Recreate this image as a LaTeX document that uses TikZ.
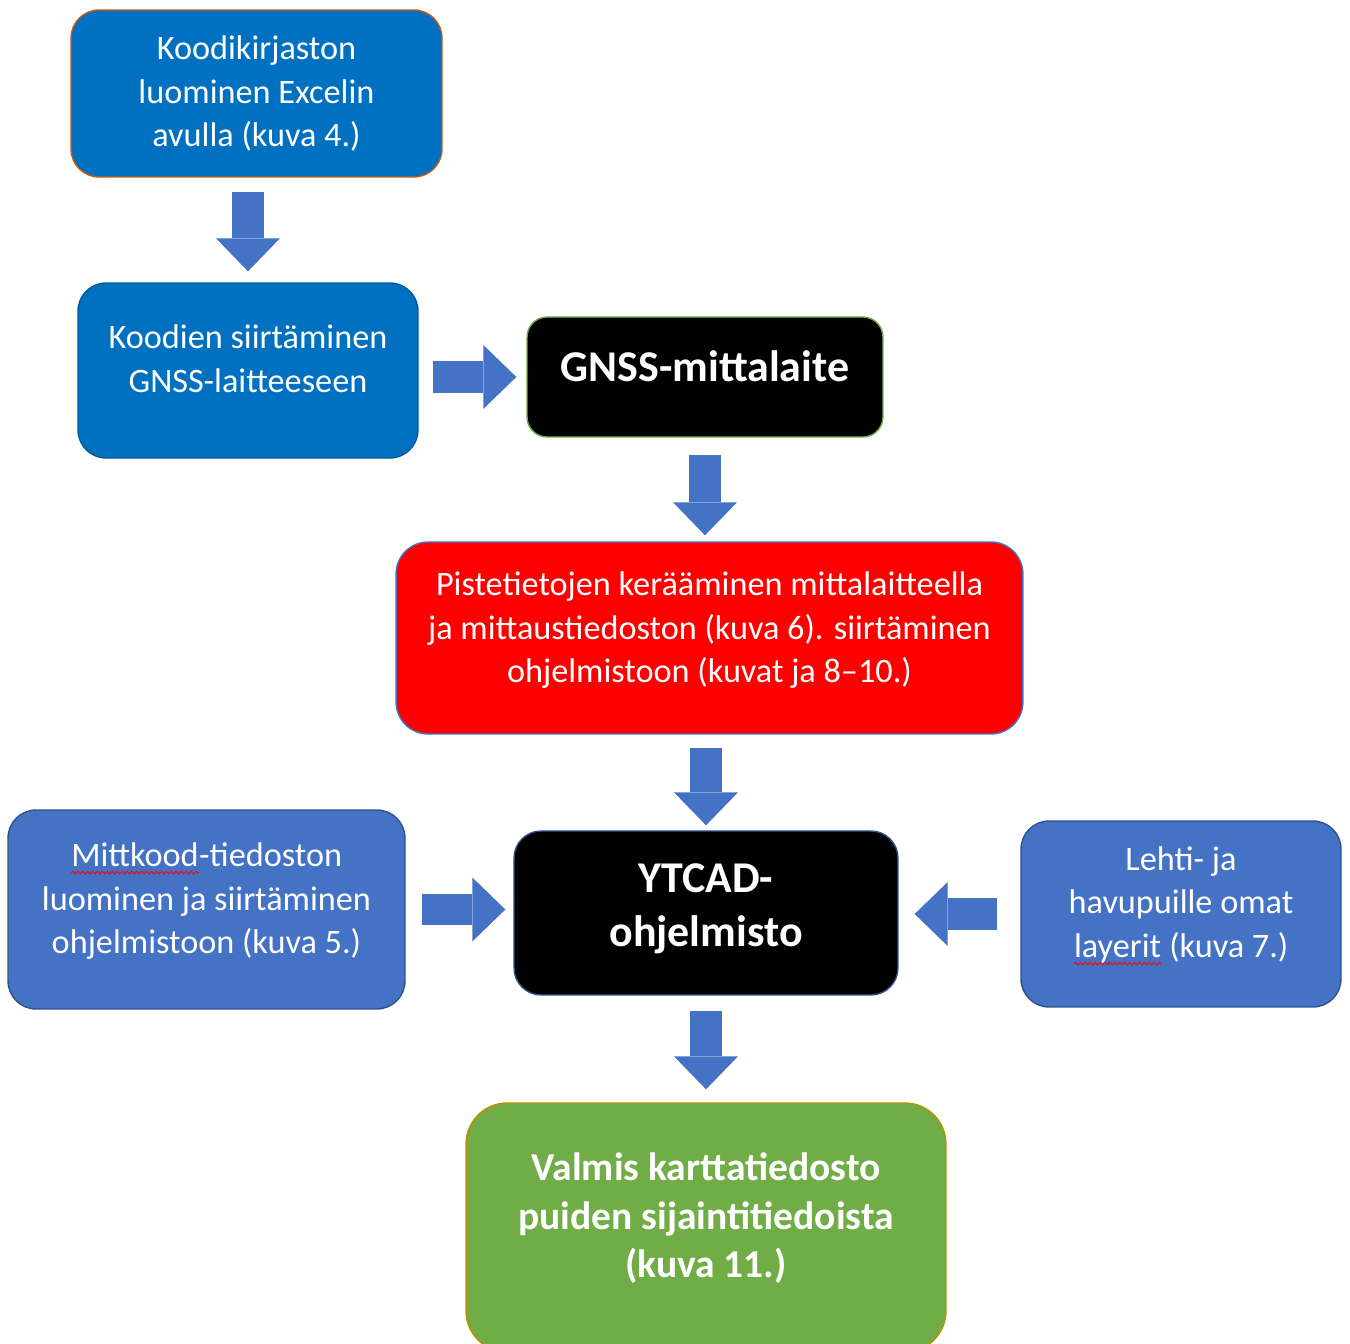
\documentclass[tikz,border=0pt]{standalone}
\usepackage{fontspec}
\setmainfont{Carlito}
\usetikzlibrary{arrows.meta,decorations.pathmorphing}

\definecolor{officeblue}{HTML}{0070C0}
\definecolor{accentblue}{HTML}{4472C4}
\definecolor{darkblue}{HTML}{2F528F}
\definecolor{officegreen}{HTML}{70AD47}
\definecolor{rustedge}{HTML}{C55A11}
\definecolor{goldedge}{HTML}{BF9000}
% text block, set higher in its box by adding depth below
\newcommand\lifted[2]{\raisebox{0pt}[\height][\dimexpr\depth+#1\relax]{\begin{tabular}{@{}c@{}}#2\end{tabular}}}
% red wavy spelling mark under a word
\newcommand\spellerr[1]{\tikz[baseline=(w.base), x=1cm, y=1cm, sharp corners]{\node[draw=none, fill=none, minimum width=0pt, minimum height=0pt, inner sep=0pt, outer sep=0pt] (w) {#1}; \draw[red, line width=0.5pt, decorate, decoration={snake, amplitude=0.8pt, segment length=2.8pt}] ([yshift=-3.5pt]w.base west) -- ([yshift=-3.5pt]w.base east);}}

\begin{document}
\begin{tikzpicture}[x=0.02cm, y=-0.02cm, every node/.style={font=\fontsize{19.5}{24.9}\selectfont, text=white, align=center}, box/.style={draw, rounded corners=0.56cm, line width=0.8pt, inner sep=2pt}, bigtext/.style={font=\fontsize{25}{30.5}\selectfont\bfseries}, flow/.style={accentblue, line width=0.64cm, -{Triangle[width=1.28cm, length=0.66cm, line width=0pt]}}]
	\clip (0,0) rectangle (1350,1344);
	\node[box, fill=officeblue, draw=rustedge, minimum width=7.42cm, minimum height=3.34cm] (kirjasto) at (256.5,93.5) {Koodikirjaston\\luominen Excelin\\avulla (kuva 4.)};
	\node[box, fill=officeblue, draw=officeblue!80!black, minimum width=6.8cm, minimum height=3.5cm] (siirto) at (248,370.5) {\lifted{0.34cm}{Koodien siirtäminen\\GNSS-laitteeseen}};
	\node[box, fill=black, draw=officegreen, rounded corners=0.4cm, minimum width=7.12cm, minimum height=2.4cm, bigtext] (gnss) at (705,377) {\lifted{0.24cm}{GNSS-mittalaite}};
	\node[box, fill=red, draw=accentblue, rounded corners=0.64cm, minimum width=12.54cm, minimum height=3.84cm] (keruu) at (709.5,638) {\lifted{0.3cm}{Pistetietojen kerääminen mittalaitteella\\ja mittaustiedoston (kuva 6). siirtäminen\\ohjelmistoon (kuvat ja 8–10.)}};
	\node[box, fill=accentblue, draw=darkblue, minimum width=7.94cm, minimum height=3.98cm] (mittkood) at (206.5,909.5) {\lifted{0.32cm}{\spellerr{Mittkood}-tiedoston\\luominen ja siirtäminen\\ohjelmistoon (kuva 5.)}};
	\node[box, fill=black, draw=darkblue, rounded corners=0.54cm, minimum width=7.68cm, minimum height=3.28cm, bigtext] (ytcad) at (706,913) {\lifted{0.18cm}{YTCAD-\\ohjelmisto}};
	\node[box, fill=accentblue, draw=darkblue, minimum width=6.4cm, minimum height=3.72cm] (layerit) at (1181,914) {\lifted{0.36cm}{Lehti- ja\\havupuille omat\\\spellerr{layerit} (kuva 7.)}};
	\node[box, fill=officegreen, draw=goldedge, rounded corners=0.82cm, minimum width=9.6cm, minimum height=4.98cm, font=\fontsize{22.5}{27.5}\selectfont\bfseries] (valmis) at (706,1227.5) {\lifted{0.32cm}{Valmis karttatiedosto\\puiden sijaintitiedoista\\(kuva 11.)}};
	% block arrows
	\draw[flow, shorten <=0.28cm, shorten >=0.22cm] (kirjasto.south -| siirto.north) -- (siirto.north);
	\draw[flow, shorten <=0.28cm, shorten >=0.2cm] (siirto.east |- gnss.west) -- (gnss.west);
	\draw[flow, shorten <=0.34cm, shorten >=0.12cm] (gnss.south) -- (gnss.south |- keruu.north);
	\draw[flow, shorten <=0.26cm, shorten >=0.1cm] (ytcad.north |- keruu.south) -- (ytcad.north);
	\draw[flow, shorten <=0.32cm, shorten >=0.16cm] (mittkood.east) -- (mittkood.east -| ytcad.west);
	\draw[flow, shorten <=0.46cm, shorten >=0.32cm] (layerit.west) -- (layerit.west -| ytcad.east);
	\draw[flow, shorten <=0.3cm, shorten >=0.26cm] (ytcad.south) -- (ytcad.south |- valmis.north);
\end{tikzpicture}
\end{document}
